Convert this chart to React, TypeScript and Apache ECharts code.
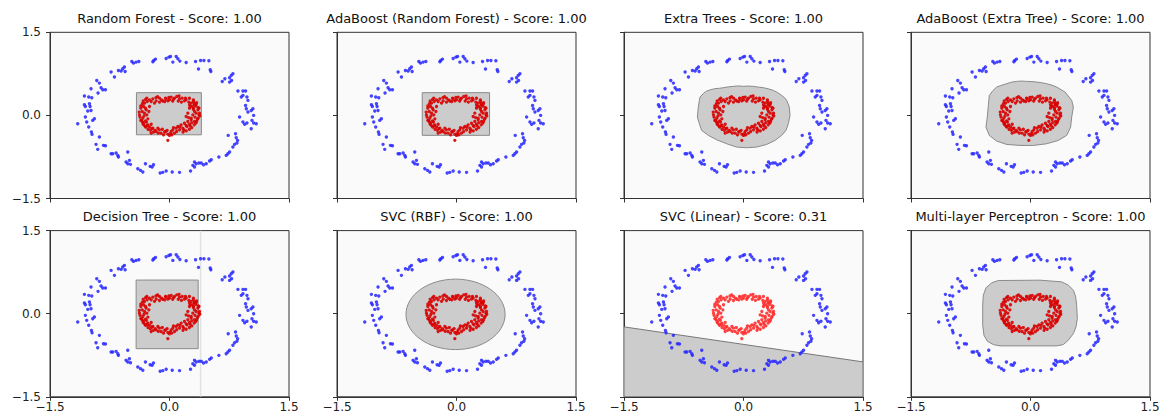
import React, { useEffect, useRef } from "react";
import * as echarts from "echarts";

// ---------- data ----------
const TITLES = [
  "Random Forest - Score: 1.00",
  "AdaBoost (Random Forest) - Score: 1.00",
  "Extra Trees - Score: 1.00",
  "AdaBoost (Extra Tree) - Score: 1.00",
  "Decision Tree - Score: 1.00",
  "SVC (RBF) - Score: 1.00",
  "SVC (Linear) - Score: 0.31",
  "Multi-layer Perceptron - Score: 1.00",
];

// outer ring (class 0, blue)
const BLUE: [number, number][] = [
  [-0.197, 0.992], [-0.176, 1.016], [-0.209, 0.968], [-0.042, 1.028], [-0.008, 1.052],
  [0.013, 1.064], [0.042, 0.962], [0.084, 1.064], [0.105, 1.022], [0.13, 0.98],
  [0.209, 0.956], [0.327, 0.974], [0.39, 0.992], [0.432, 0.992], [0.494, 0.986],
  [0.364, 0.836], [0.511, 0.824], [0.519, 0.794], [-0.473, 0.974], [-0.452, 0.944],
  [-0.419, 0.962], [-0.385, 0.974], [-0.566, 0.872], [-0.587, 0.842], [-0.641, 0.812],
  [-0.607, 0.8], [-0.691, 0.692], [-0.733, 0.782], [-0.557, 0.794],
  [-0.913, 0.631], [-0.88, 0.583], [-0.859, 0.499], [-0.838, 0.463], [-0.804, 0.463],
  [-0.985, 0.481], [-1.068, 0.349], [-1.014, 0.331], [-0.976, 0.319], [-0.897, 0.403],
  [-1.068, 0.192], [-1.056, 0.162], [-1.005, 0.21], [-0.997, 0.162], [-0.985, 0.09],
  [-1.026, 0.078], [-0.943, -0.06], [-0.964, -0.09], [-1.056, -0.03], [-1.039, -0.12],
  [-1.152, -0.15], [-1.014, -0.21], [-0.98, -0.301], [-0.972, -0.343], [-0.88, -0.391],
  [-0.922, -0.523], [-0.901, -0.613], [-0.829, -0.541], [-0.804, -0.547],
  [-0.733, -0.692], [-0.712, -0.692], [-0.67, -0.68], [-0.649, -0.722], [-0.641, -0.752],
  [-0.545, -0.842], [-0.524, -0.872], [-0.503, -0.812], [-0.49, -0.884], [-0.524, -0.661],
  [-0.398, -0.962], [-0.364, -0.992], [-0.335, -1.022], [-0.302, -0.872], [-0.243, -0.92],
  [-0.218, -0.932], [-0.201, -0.89], [-0.117, -1.04], [-0.084, -1.028], [-0.042, -1.004],
  [0.034, -1.022], [0.126, -1.028],
  [0.264, -1.004], [0.293, -0.902], [0.314, -0.842], [0.314, -0.932], [0.335, -0.872],
  [0.369, -0.86], [0.398, -0.86], [0.427, -0.89], [0.461, -0.872], [0.503, -0.824],
  [0.524, -0.8], [0.62, -0.752], [0.712, -0.722], [0.733, -0.692], [0.754, -0.661],
  [0.796, -0.571], [0.817, -0.523], [0.846, -0.499], [0.855, -0.451], [0.829, -0.331],
  [0.737, -0.361], [0.838, -0.403],
  [0.88, -0.03], [0.922, -0.12], [0.943, -0.162], [0.972, -0.138], [1.026, -0.241],
  [1.056, -0.138], [1.089, -0.15], [1.035, -0.09], [1.056, 0.0], [0.985, 0.06],
  [1.026, 0.09], [1.047, 0.12], [0.964, 0.12], [0.955, 0.18], [0.985, 0.271],
  [0.972, 0.331], [0.922, 0.361], [0.901, 0.331], [0.922, 0.439], [0.859, 0.439],
  [0.955, 0.439],
  [0.662, 0.613], [0.695, 0.661], [0.754, 0.679], [0.775, 0.722], [0.796, 0.752],
  [0.754, 0.601], [0.779, 0.631],
];

// inner ring (class 1, red)
const RED: [number, number][] = [
  [-0.285, 0.311], [-0.251, 0.281], [-0.209, 0.299], [-0.167, 0.263], [-0.126, 0.239],
  [-0.084, 0.26], [-0.042, 0.299], [-0.008, 0.323], [0.021, 0.329], [0.063, 0.311],
  [0.092, 0.341], [0.126, 0.299], [0.159, 0.311], [0.188, 0.263], [0.209, 0.281],
  [0.243, 0.239], [0.272, 0.221], [0.314, 0.191], [0.335, 0.203], [0.04, 0.26],
  [-0.021, 0.263], [-0.126, 0.311], [-0.188, 0.223], [-0.06, 0.25],
  [-0.314, 0.221], [-0.326, 0.161], [-0.301, 0.13], [-0.343, 0.07], [-0.377, 0.01],
  [-0.314, 0.04], [-0.285, 0.01], [-0.335, -0.05], [-0.301, -0.098], [-0.272, -0.062],
  [-0.326, -0.141], [-0.272, -0.171], [-0.23, -0.159], [-0.293, 0.1], [-0.251, 0.161],
  [-0.259, 0.07],
  [-0.209, -0.231], [-0.23, -0.321], [-0.167, -0.291], [-0.146, -0.231], [-0.126, -0.261],
  [-0.105, -0.321], [-0.075, -0.351], [-0.05, -0.291], [-0.021, -0.339], [0.0, -0.362],
  [-0.021, -0.45], [0.021, -0.291], [0.042, -0.261], [0.063, -0.321], [0.084, -0.231],
  [0.105, -0.201], [0.126, -0.261], [0.146, -0.171], [0.167, -0.231], [0.188, -0.141],
  [0.209, -0.183], [0.23, -0.11], [0.251, -0.159],
  [0.272, -0.05], [0.293, 0.01], [0.314, 0.07], [0.335, 0.04], [0.356, 0.1],
  [0.377, 0.04], [0.301, 0.13], [0.251, 0.13], [0.23, 0.04], [0.272, -0.08],
  [0.314, -0.11], [0.209, -0.02], [0.251, 0.191], [0.285, 0.161],
  [-0.23, 0.25], [-0.1, 0.28], [0.0, 0.28], [0.05, 0.29], [0.15, 0.24],
  [0.11, 0.26], [-0.05, 0.31], [0.2, 0.31], [0.3, 0.25], [-0.17, 0.32],
  [-0.36, 0.13], [-0.32, -0.01], [-0.36, -0.09], [-0.29, -0.12], [-0.34, 0.21],
  [-0.28, 0.25], [-0.31, -0.19], [-0.25, -0.21],
  [-0.18, -0.27], [-0.14, -0.32], [-0.09, -0.25], [-0.03, -0.27], [0.01, -0.33],
  [0.05, -0.22], [0.09, -0.29], [0.13, -0.21], [0.18, -0.26], [0.22, -0.2],
  [0.03, -0.35], [-0.06, -0.3],
  [0.32, -0.03], [0.35, -0.07], [0.3, 0.11], [0.36, 0.14], [0.33, 0.17],
  [0.28, -0.13], [0.24, -0.04], [0.38, -0.01], [0.31, 0.21], [0.26, 0.16],
  [-0.35, -0.09], [-0.33, -0.16], [-0.3, -0.21], [-0.27, -0.25], [-0.24, -0.27],
  [-0.2, -0.3], [-0.34, -0.12], [-0.28, -0.19], [-0.22, -0.24], [-0.37, -0.03],
  [0.36, -0.05], [0.34, -0.11], [0.31, -0.17], [0.28, -0.22], [0.25, -0.25],
  [0.21, -0.28], [0.17, -0.3], [0.33, -0.14], [0.26, -0.19], [0.37, 0.01],
  [-0.36, 0.17], [-0.33, 0.26], [-0.3, 0.29], [0.34, 0.23], [0.3, 0.28],
  [0.37, 0.13], [0.25, 0.31], [-0.15, 0.34], [0.12, 0.35], [-0.38, 0.06],
];

// decision regions (class 1 area) per classifier
const RF_REGION: [number, number][] = [[-0.415, 0.41], [0.4, 0.41], [0.4, -0.35], [-0.415, -0.35]];
const ADA_RF_REGION: [number, number][] = [[-0.43, 0.41], [0.415, 0.41], [0.415, -0.36], [-0.43, -0.36]];
const ET_REGION: [number, number][] = [
  [-0.546, 0.331], [-0.5, 0.4], [-0.462, 0.44], [-0.41, 0.465], [-0.358, 0.482],
  [-0.3, 0.49], [-0.253, 0.5], [-0.19, 0.515], [-0.128, 0.524], [-0.06, 0.532],
  [-0.002, 0.524], [0.06, 0.53], [0.123, 0.524], [0.19, 0.51], [0.249, 0.5],
  [0.31, 0.48], [0.374, 0.452], [0.43, 0.41], [0.479, 0.361], [0.515, 0.32],
  [0.542, 0.271], [0.575, 0.151], [0.584, 0.0], [0.563, -0.151], [0.533, -0.271],
  [0.479, -0.361], [0.395, -0.452], [0.291, -0.524], [0.165, -0.572], [0.04, -0.584],
  [-0.086, -0.572], [-0.211, -0.512], [-0.337, -0.44], [-0.441, -0.361], [-0.525, -0.271],
  [-0.554, -0.151], [-0.579, -0.03], [-0.567, 0.151], [-0.554, 0.271],
];
const ADA_ET_REGION: [number, number][] = [
  [-0.517, 0.361], [-0.47, 0.45], [-0.425, 0.512], [-0.36, 0.545], [-0.299, 0.572],
  [-0.24, 0.6], [-0.174, 0.614], [-0.11, 0.62], [-0.048, 0.614], [0.02, 0.61],
  [0.077, 0.602], [0.14, 0.59], [0.203, 0.572], [0.27, 0.545], [0.328, 0.512],
  [0.433, 0.422], [0.517, 0.271], [0.538, 0.151], [0.517, -0.03], [0.504, -0.211],
  [0.454, -0.361], [0.349, -0.452], [0.203, -0.512], [0.036, -0.542], [-0.132, -0.542],
  [-0.299, -0.524], [-0.425, -0.464], [-0.517, -0.361], [-0.559, -0.211], [-0.542, -0.03],
  [-0.529, 0.181],
];
const DT_REGION: [number, number][] = [[-0.419, 0.607], [0.36, 0.607], [0.36, -0.631], [-0.419, -0.631]];
const DT_SPLIT_X = 0.39;
const SVC_RBF_ELLIPSE = [-0.012, -0.012, 0.622, 0.636]; // cx, cy, rx, ry
const SVC_LIN_REGION: [number, number][] = [[-1.5, -0.238], [1.5, -0.87], [1.5, -1.5], [-1.5, -1.5]];
const MLP_REGION: [number, number][] = [
  [-0.592, 0.334], [-0.559, 0.467], [-0.487, 0.557], [-0.404, 0.599], [0.119, 0.605],
  [0.391, 0.575], [0.475, 0.515], [0.538, 0.425], [0.567, 0.304], [0.579, 0.154],
  [0.588, -0.087], [0.571, -0.238], [0.538, -0.358], [0.475, -0.479], [0.412, -0.557],
  [0.328, -0.581], [-0.383, -0.581], [-0.467, -0.557], [-0.542, -0.497], [-0.584, -0.389],
  [-0.6, -0.208], [-0.6, 0.154],
];

// ---------- layout ----------
const COL_LEFT = [50, 337, 624, 911];
const ROW_TOP = [32.3, 230.6];
const PW = 239;
const PH = 166.2;

const FONT = "DejaVu Sans";
const REGION_FILL = "#cccccc";
const REGION_EDGE = "#8a8a8a";

const fmt = (v: number) => (v < 0 ? "\u2212" : "") + Math.abs(v).toFixed(1);

function polyItem(verts: [number, number][]) {
  return (params: any, api: any) => {
    if (params.dataIndex !== 0) return null;
    return {
      type: "polygon",
      shape: { points: verts.map((p) => api.coord(p)) },
      style: { fill: REGION_FILL, stroke: REGION_EDGE, lineWidth: 1 },
    };
  };
}

function buildOption() {
  const grids: any[] = [];
  const xAxes: any[] = [];
  const yAxes: any[] = [];
  const series: any[] = [];
  const graphics: any[] = [];

  for (let i = 0; i < 8; i++) {
    const row = Math.floor(i / 4);
    const col = i % 4;
    grids.push({
      left: COL_LEFT[col],
      top: ROW_TOP[row],
      width: PW,
      height: PH,
      show: true,
      backgroundColor: "#fafafa",
      borderColor: "#333333",
      borderWidth: 1,
      containLabel: false,
    });
    const axisCommon = {
      gridIndex: i,
      type: "value",
      min: -1.5,
      max: 1.5,
      interval: 1.5,
      splitLine: { show: false },
      axisLine: { show: true, onZero: false, lineStyle: { color: "#333333", width: 1 } },
      axisTick: { show: true, inside: false, length: 4, lineStyle: { color: "#333333", width: 1 } },
    };
    xAxes.push({
      ...axisCommon,
      axisLabel: {
        show: row === 1,
        margin: 4,
        formatter: fmt,
        color: "#222222",
        fontSize: 12,
        fontFamily: FONT,
        showMinLabel: true,
        showMaxLabel: true,
      },
    });
    yAxes.push({
      ...axisCommon,
      axisLabel: {
        show: col === 0,
        margin: 9,
        formatter: fmt,
        color: "#222222",
        fontSize: 12,
        fontFamily: FONT,
        showMinLabel: true,
        showMaxLabel: true,
      },
    });

    graphics.push({
      type: "text",
      x: COL_LEFT[col] + PW / 2,
      y: ROW_TOP[row] - 14,
      style: {
        text: TITLES[i],
        font: `13px "${FONT}"`,
        fill: "#111111",
        align: "center",
        verticalAlign: "middle",
        textAlign: "center",
        textVerticalAlign: "middle",
      },
      silent: true,
    });
  }

  const regionRender: any[] = [
    polyItem(RF_REGION),
    polyItem(ADA_RF_REGION),
    polyItem(ET_REGION),
    polyItem(ADA_ET_REGION),
    (params: any, api: any) => {
      if (params.dataIndex !== 0) return null;
      const top = api.coord([DT_SPLIT_X, 1.5]);
      const bot = api.coord([DT_SPLIT_X, -1.5]);
      return {
        type: "group",
        children: [
          {
            type: "line",
            shape: { x1: top[0], y1: top[1], x2: bot[0], y2: bot[1] },
            style: { stroke: "#e2e2e2", lineWidth: 1.5 },
          },
          {
            type: "polygon",
            shape: { points: DT_REGION.map((p) => api.coord(p)) },
            style: { fill: REGION_FILL, stroke: REGION_EDGE, lineWidth: 1 },
          },
        ],
      };
    },
    (params: any, api: any) => {
      if (params.dataIndex !== 0) return null;
      const c = api.coord([SVC_RBF_ELLIPSE[0], SVC_RBF_ELLIPSE[1]]);
      const s = api.size([SVC_RBF_ELLIPSE[2], SVC_RBF_ELLIPSE[3]]);
      return {
        type: "ellipse",
        shape: { cx: c[0], cy: c[1], rx: s[0], ry: s[1] },
        style: { fill: REGION_FILL, stroke: REGION_EDGE, lineWidth: 1 },
      };
    },
    (params: any, api: any) => {
      if (params.dataIndex !== 0) return null;
      return {
        type: "polygon",
        shape: { points: SVC_LIN_REGION.map((p) => api.coord(p)) },
        style: { fill: REGION_FILL, stroke: "#777777", lineWidth: 1 },
      };
    },
    polyItem(MLP_REGION),
  ];

  for (let i = 0; i < 8; i++) {
    series.push({
      type: "custom",
      xAxisIndex: i,
      yAxisIndex: i,
      data: [[0, 0]],
      renderItem: regionRender[i],
      silent: true,
      clip: true,
      z: 1,
    });
    series.push({
      type: "scatter",
      xAxisIndex: i,
      yAxisIndex: i,
      data: BLUE,
      symbol: "circle",
      symbolSize: 3.4,
      itemStyle: { color: "#2424ff", opacity: 0.85 },
      silent: true,
      z: 3,
    });
    series.push({
      type: "scatter",
      xAxisIndex: i,
      yAxisIndex: i,
      data: RED,
      symbol: "circle",
      symbolSize: 3.3,
      itemStyle: { color: i === 6 ? "#ff3030" : "#d80000", opacity: 0.9 },
      silent: true,
      z: 3,
    });
  }

  return {
    animation: false,
    backgroundColor: "#ffffff",
    grid: grids,
    xAxis: xAxes,
    yAxis: yAxes,
    series,
    graphic: graphics,
  };
}

export default function App() {
  const ref = useRef<HTMLDivElement>(null);
  useEffect(() => {
    if (!ref.current) return;
    const chart = echarts.init(ref.current, undefined, { renderer: "svg" });
    chart.setOption(buildOption() as any);
    return () => chart.dispose();
  }, []);
  return (
    <div
      ref={ref}
      style={{ position: "absolute", left: 0, top: 0, width: 1163, height: 418, background: "#ffffff" }}
    />
  );
}
